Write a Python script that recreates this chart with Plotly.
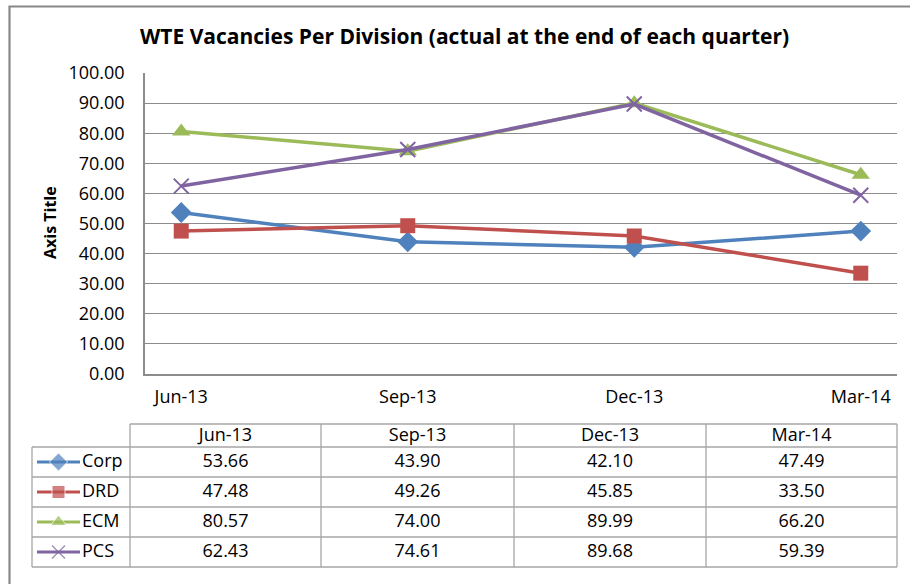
import plotly.graph_objects as go

# ---- data ----
quarters = ["Jun-13", "Sep-13", "Dec-13", "Mar-14"]
corp = [53.66, 43.90, 42.10, 47.49]
drd = [47.48, 49.26, 45.85, 33.50]
ecm = [80.57, 74.00, 89.99, 66.20]
pcs = [62.43, 74.61, 89.68, 59.39]
series_names = ["Corp", "DRD", "ECM", "PCS"]
y_ticks = [0, 10, 20, 30, 40, 50, 60, 70, 80, 90, 100]

series_values = [corp, drd, ecm, pcs]
colors = ["#4F81BD", "#C0504D", "#9BBB59", "#8064A2"]
symbols = ["diamond", "square", "triangle-up", "x-thin"]
msizes = [16, 15, 16, 15]

W, H = 910, 584
FONT = "'Open Sans', sans-serif"
FS = 18

def px(x):
    return x / W

def py(y):
    return 1 - y / H

fig = go.Figure()

# main chart lines
for name, vals, c, s, ms in zip(series_names, series_values, colors, symbols, msizes):
    marker = dict(symbol=s, size=ms, color=c)
    if s == "x-thin":
        marker["line"] = dict(color=c, width=2)
    fig.add_trace(go.Scatter(
        x=quarters, y=vals, mode="lines+markers", name=name,
        line=dict(color=c, width=3.5), marker=marker,
        xaxis="x", yaxis="y", showlegend=False, hoverinfo="x+y+name", cliponaxis=False))

# ---- data table (drawn on a pixel-like helper axis) ----
col_edges = [130, 321, 514, 706, 897]
legend_left = 32
header_top, header_bot, row_h = 424, 447, 30
n_rows = len(series_names)
row_edges = [header_bot + i * row_h for i in range(n_rows + 1)]
grid_c = "#A6A6A6"
shapes = []
shapes.append(dict(type="line", xref="x2", yref="y2", x0=col_edges[0], x1=col_edges[-1],
                   y0=header_top, y1=header_top, line=dict(color=grid_c, width=1.3)))
for ry in row_edges:
    shapes.append(dict(type="line", xref="x2", yref="y2", x0=legend_left, x1=col_edges[-1],
                       y0=ry, y1=ry, line=dict(color=grid_c, width=1.3)))
shapes.append(dict(type="line", xref="x2", yref="y2", x0=legend_left, x1=legend_left,
                   y0=row_edges[0], y1=row_edges[-1], line=dict(color=grid_c, width=1.3)))
for cx in col_edges:
    shapes.append(dict(type="line", xref="x2", yref="y2", x0=cx, x1=cx,
                       y0=header_top, y1=row_edges[-1], line=dict(color=grid_c, width=1.3)))
# outer chart border
shapes.append(dict(type="rect", xref="paper", yref="paper", x0=px(9.5), x1=px(940),
                   y0=py(600), y1=py(6.5), line=dict(color="#888888", width=2.2), layer="below"))

col_centers = [(a + b) / 2 for a, b in zip(col_edges[:-1], col_edges[1:])]
row_centers = [(a + b) / 2 for a, b in zip(row_edges[:-1], row_edges[1:])]

# header text
fig.add_trace(go.Scatter(x=col_centers, y=[(header_top + header_bot) / 2 + 0.5] * len(quarters),
                         text=quarters, mode="text", xaxis="x2", yaxis="y2",
                         textfont=dict(family=FONT, size=FS, color="#000"),
                         showlegend=False, hoverinfo="skip", cliponaxis=False))
# values
for i, vals in enumerate(series_values):
    fig.add_trace(go.Scatter(x=col_centers, y=[row_centers[i]] * len(vals),
                             text=[f"{v:.2f}" for v in vals], mode="text",
                             xaxis="x2", yaxis="y2",
                             textfont=dict(family=FONT, size=FS, color="#000"),
                             showlegend=False, hoverinfo="skip", cliponaxis=False))
# legend keys inside table
for i, (name, c, s, ms) in enumerate(zip(series_names, colors, symbols, msizes)):
    marker = dict(symbol=s, size=[0, ms - 2, 0], color=c)
    if s == "x-thin":
        marker["line"] = dict(color=c, width=1.5)
    fig.add_trace(go.Scatter(x=[37, 58.5, 80], y=[row_centers[i]] * 3, mode="lines+markers",
                             line=dict(color=c, width=3), marker=marker,
                             xaxis="x2", yaxis="y2", showlegend=False, hoverinfo="skip",
                             cliponaxis=False))
    fig.add_trace(go.Scatter(x=[82], y=[row_centers[i]], text=[name], mode="text",
                             textposition="middle right", xaxis="x2", yaxis="y2",
                             textfont=dict(family=FONT, size=FS, color="#000"),
                             showlegend=False, hoverinfo="skip", cliponaxis=False))

annotations = [
    dict(text="<b>WTE Vacancies Per Division (actual at the end of each quarter)</b>",
         x=px(465), y=py(36), xref="paper", yref="paper", showarrow=False,
         font=dict(family=FONT, size=21, color="#000"), xanchor="center", yanchor="middle"),
    dict(text="<b>Axis Title</b>", x=px(50), y=py(223), xref="paper", yref="paper",
         showarrow=False, textangle=-90, font=dict(family=FONT, size=16, color="#000"),
         xanchor="center", yanchor="middle"),
]

fig.update_layout(
    width=W, height=H, autosize=False,
    margin=dict(l=0, r=0, t=0, b=0, pad=0, autoexpand=False),
    paper_bgcolor="white", plot_bgcolor="rgba(0,0,0,0)",
    font=dict(family=FONT, color="#000"),
    shapes=shapes, annotations=annotations,
    xaxis=dict(domain=[px(145), px(897)], range=[-0.16, 3.16], type="category",
               showgrid=False, showline=True, linecolor="#8C8C8C", linewidth=1.5,
               ticks="", tickfont=dict(family=FONT, size=FS, color="#000"),
               ticklabelstandoff=6, anchor="y", fixedrange=True, automargin=False),
    yaxis=dict(domain=[py(374), py(73)], range=[0, 100], tickvals=y_ticks,
               ticktext=[f"{v:.2f}" for v in y_ticks],
               showgrid=True, gridcolor="#8C8C8C", gridwidth=1.3,
               showline=True, linecolor="#8C8C8C", linewidth=1.5, zeroline=False,
               ticks="", tickfont=dict(family=FONT, size=FS, color="#000"),
               ticklabelstandoff=15, anchor="x", fixedrange=True, automargin=False),
    xaxis2=dict(domain=[0, 1], range=[0, W], visible=False, anchor="y2", fixedrange=True,
                automargin=False),
    yaxis2=dict(domain=[0, 1], range=[H, 0], visible=False, anchor="x2", fixedrange=True,
                automargin=False),
)

fig.write_html("out.html", config={"displayModeBar": False},
               post_script="document.body.style.margin='0';document.body.style.overflow='hidden';")
